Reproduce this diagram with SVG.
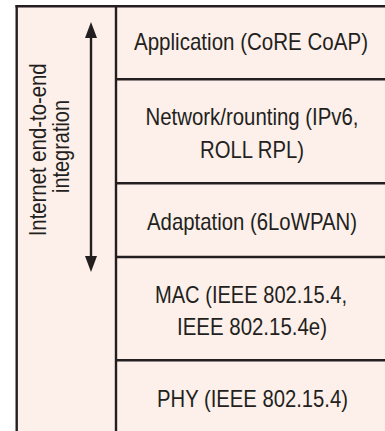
<svg xmlns="http://www.w3.org/2000/svg" width="385" height="431" viewBox="0 0 385 431">
  <style>
    .bg { fill: #fdf0ea; }
    .ln { stroke: #231f20; stroke-width: 2.4; fill: none; }
    .lbl { font-family: "Liberation Sans", Arial, sans-serif; font-size: 24px; fill: #231f20; text-anchor: middle; }
  </style>
  <defs>
    <marker id="ah" markerUnits="userSpaceOnUse" markerWidth="16" markerHeight="12" refX="0" refY="6" orient="auto-start-reverse" viewBox="0 0 16 12">
      <path d="M0,0 L16,6 L0,12 z" fill="#231f20"/>
    </marker>
  </defs>
  <rect x="0" y="0" width="385" height="431" fill="#ffffff"/>
  <rect class="bg" x="16.5" y="6" width="368.5" height="425"/>

  <g id="frame">
    <line class="ln" x1="15.5" y1="6.2" x2="385" y2="6.2"/>
    <line class="ln" x1="16.7" y1="5" x2="16.7" y2="431" stroke-width="2.8"/>
    <line class="ln" x1="116" y1="6" x2="116" y2="431"/>
  </g>

  <g id="integration">
    <text class="lbl" transform="translate(45.5,146.5) rotate(-90)">
      <tspan x="0" y="0" textLength="173" lengthAdjust="spacingAndGlyphs">Internet end-to-end</tspan>
      <tspan x="0" y="23" textLength="93" lengthAdjust="spacingAndGlyphs">integration</tspan>
    </text>
  </g>

  <g id="application">
    <text class="lbl" x="251" y="50" textLength="234" lengthAdjust="spacingAndGlyphs">Application (CoRE CoAP)</text>
  </g>
  <g id="network">
    <line class="ln" x1="115" y1="79.3" x2="385" y2="79.3"/>
    <text class="lbl" x="252" y="125" textLength="213" lengthAdjust="spacingAndGlyphs">Network/rounting (IPv6,</text>
    <text class="lbl" x="252" y="158" textLength="104" lengthAdjust="spacingAndGlyphs">ROLL RPL)</text>
  </g>
  <g id="adaptation">
    <line class="ln" x1="115" y1="183.3" x2="385" y2="183.3"/>
    <text class="lbl" x="252" y="230" textLength="210" lengthAdjust="spacingAndGlyphs">Adaptation (6LoWPAN)</text>
  </g>
  <g id="mac">
    <line class="ln" x1="115" y1="257" x2="385" y2="257"/>
    <text class="lbl" x="251" y="303" textLength="192" lengthAdjust="spacingAndGlyphs">MAC (IEEE 802.15.4,</text>
    <text class="lbl" x="252" y="335" textLength="150" lengthAdjust="spacingAndGlyphs">IEEE 802.15.4e)</text>
  </g>
  <g id="phy">
    <line class="ln" x1="115" y1="360.3" x2="385" y2="360.3"/>
    <text class="lbl" x="252.5" y="407" textLength="191" lengthAdjust="spacingAndGlyphs">PHY (IEEE 802.15.4)</text>
  </g>

  <g id="connectors">
    <line class="ln" x1="91" y1="38" x2="91" y2="256" stroke-width="2.8" marker-start="url(#ah)" marker-end="url(#ah)"/>
  </g>
</svg>
